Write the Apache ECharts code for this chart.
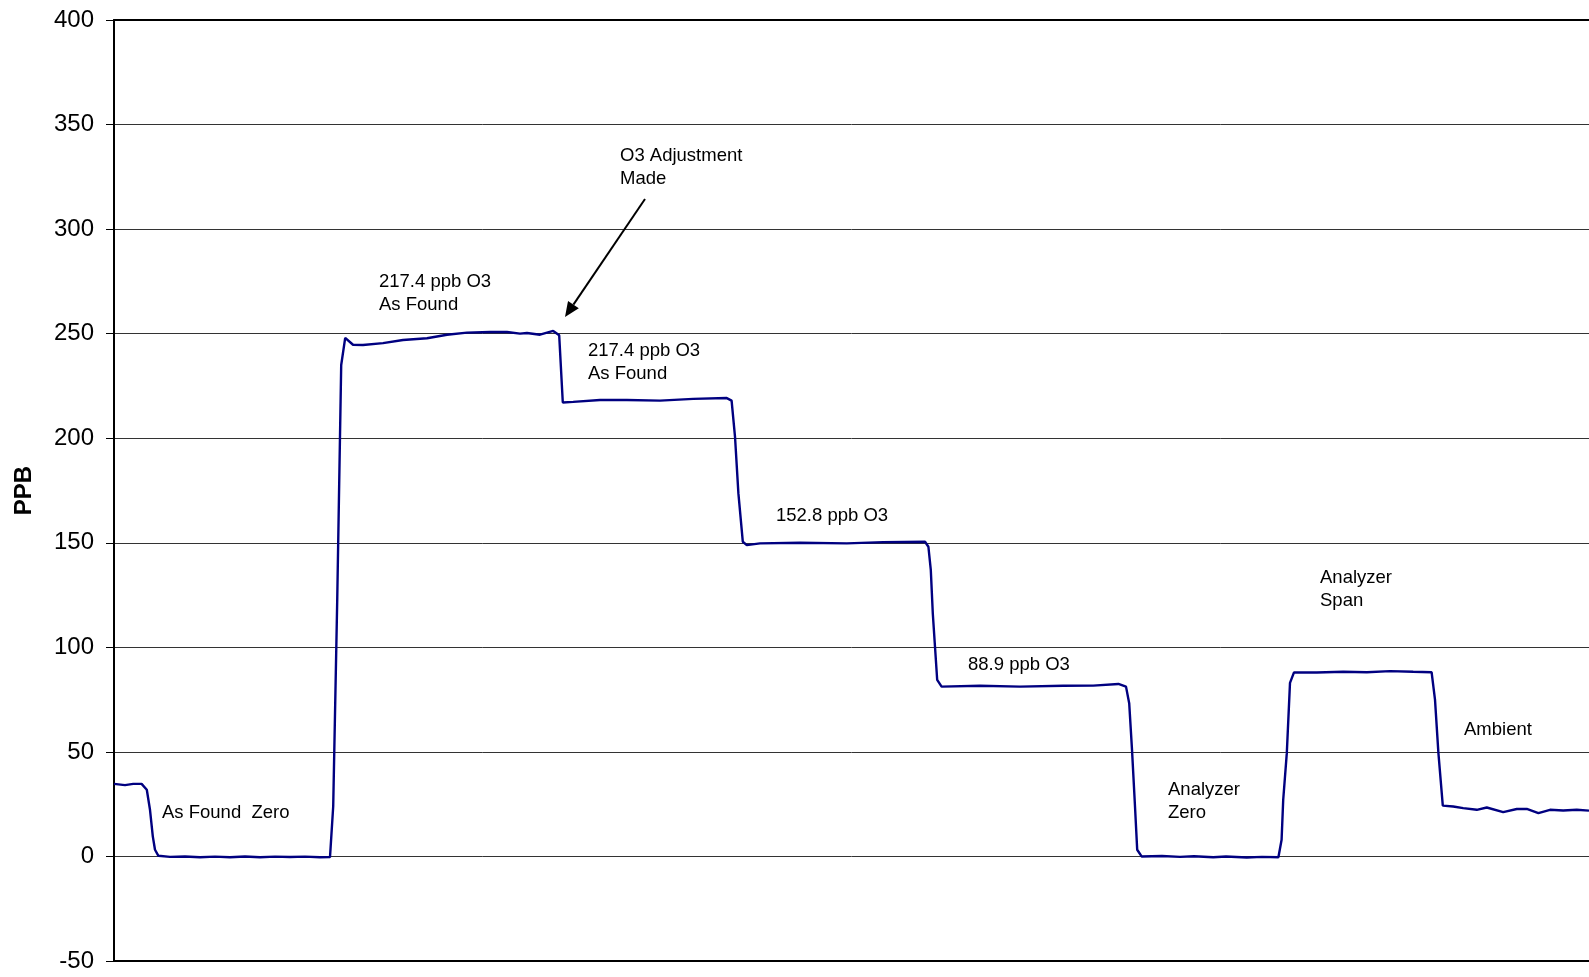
<!DOCTYPE html>
<html>
<head>
<meta charset="utf-8">
<script src="https://cdn.jsdelivr.net/npm/echarts@6/dist/echarts.min.js"></script>
<style>
html,body{margin:0;padding:0;background:#fff;}
#chart{width:1589px;height:977px;}
</style>
</head>
<body>
<div id="chart"></div>
<script>
// Sample time (arbitrary units, quarter-steps) and measured ozone (PPB)
var sampleTime = [
  0, 2.75, 4.8, 6.9, 8.2, 9, 9.7, 10.25, 11.1,
  14, 17.75, 21.5, 25.25, 29, 32.75, 36.5, 40.25, 44, 47.75, 51.5, 54,
  54.8, 55.8, 56.8, 57.8, 59.75, 62.25, 67.25, 72.25, 78.25, 83.25, 88.25, 94, 98.25, 101.5, 103.25, 106.5, 109.8, 111.3,
  112.2, 114.8, 121.5, 128.2, 136.5, 144.8, 153.2, 154.4,
  155.25, 156.1, 157.2, 158.2, 161.5, 171.5, 183.2, 192.3, 202.75, 203.6,
  204.2, 204.7, 205.25, 205.8, 206.9, 216.5, 226.5, 237.3, 244.8, 251.1, 253,
  253.8, 254.5, 255.25, 255.8, 256.9, 262, 266.5, 270, 274.8, 278, 283.2, 287, 291.1,
  291.9, 292.3, 293.2, 294, 295, 300.7, 307.3, 313.2, 319, 324.8, 329.4,
  330.25, 331.1, 332.2, 334.8, 337.3, 340.7, 343.2, 347.3, 350.7, 353.2, 356.1, 359, 362.3, 365.7, 368.75
];
var ppbValues = [
  34.7, 34.1, 34.7, 34.7, 31.9, 22.3, 9.6, 3.2, 0.3,
  -0.2, 0, -0.4, -0.1, -0.4, 0, -0.4, -0.1, -0.3, -0.1, -0.4, -0.3,
  23.9, 122, 235, 248, 244.7, 244.6, 245.5, 247, 247.8, 249.5, 250.5, 250.8, 250.8, 250, 250.3, 249.5, 251.3, 249.2,
  217.1, 217.4, 218.3, 218.3, 218, 218.8, 219.2, 218,
  200.8, 173.6, 150.5, 148.9, 149.7, 150, 149.7, 150.3, 150.5, 148.1,
  137, 116.2, 100.3, 84.4, 81.2, 81.6, 81.2, 81.6, 81.7, 82.5, 81.2,
  73.3, 51.1, 23.9, 3.2, 0, 0.2, -0.2, 0.1, -0.4, 0, -0.5, -0.2, -0.4,
  8, 27, 49.4, 83, 88, 88, 88.3, 88.1, 88.6, 88.3, 88.1,
  75, 49.5, 24.3, 23.9, 23.1, 22.3, 23.4, 21.2, 22.7, 22.7, 20.7, 22.3, 22, 22.3, 21.9
];
var yTicks = [-50, 0, 50, 100, 150, 200, 250, 300, 350, 400];
var annotationTexts = [
  '217.4 ppb O3\nAs Found',
  'O3 Adjustment\nMade',
  '217.4 ppb O3\nAs Found',
  '152.8 ppb O3',
  '88.9 ppb O3',
  'Analyzer\nZero',
  'Analyzer\nSpan',
  'Ambient',
  'As Found  Zero'
];

// layout for annotations (pixel positions, left edge / vertical middle of first line)
var annotationPos = [
  [379, 282], [620, 156], [588, 351], [776, 516], [968, 665],
  [1168, 790], [1320, 578], [1464, 730], [162, 813]
];

var seriesData = sampleTime.map(function (t, i) { return [t, ppbValues[i]]; });

var FONT = '"Liberation Sans", Arial, sans-serif';
var graphics = annotationTexts.map(function (txt, i) {
  return {
    type: 'text',
    left: annotationPos[i][0],
    top: annotationPos[i][1] - 11,
    z: 100,
    style: {
      text: txt,
      font: '18.5px ' + FONT,
      fill: '#000',
      lineHeight: 22.7
    }
  };
});
// arrow
var ax0 = 645, ay0 = 199, ax1 = 565, ay1 = 317;
var ang = Math.atan2(ay1 - ay0, ax1 - ax0);
var hl = 15, hw = 6.5;
var bx = ax1 - hl * Math.cos(ang), by = ay1 - hl * Math.sin(ang);
var px = -Math.sin(ang), py = Math.cos(ang);
graphics.push({
  type: 'line', z: 100,
  shape: { x1: ax0, y1: ay0, x2: bx, y2: by },
  style: { stroke: '#000', lineWidth: 2 }
});
graphics.push({
  type: 'polygon', z: 100,
  shape: { points: [[ax1, ay1], [bx + px * hw, by + py * hw], [bx - px * hw, by - py * hw]] },
  style: { fill: '#000' }
});

var chart = echarts.init(document.getElementById('chart'), null, { renderer: 'canvas' });
chart.setOption({
  backgroundColor: '#fff',
  animation: false,
  grid: { left: 114, right: 0, top: 20, bottom: 16, containLabel: false },
  xAxis: [{
    type: 'value', min: 0, max: 368.75, position: 'bottom',
    axisLine: { show: true, onZero: false, lineStyle: { color: '#000', width: 2 } },
    axisTick: { show: false }, axisLabel: { show: false }, splitLine: { show: false }
  }, {
    type: 'value', min: 0, max: 368.75, position: 'top',
    axisLine: { show: true, onZero: false, lineStyle: { color: '#000', width: 2 } },
    axisTick: { show: false }, axisLabel: { show: false }, splitLine: { show: false }
  }],
  yAxis: {
    type: 'value', min: yTicks[0], max: yTicks[yTicks.length - 1], interval: 50,
    name: 'PPB', nameLocation: 'middle', nameGap: 78, nameRotate: 90,
    nameTextStyle: { fontFamily: FONT, fontSize: 24, fontWeight: 'bold', color: '#000' },
    axisLine: { show: true, onZero: false, lineStyle: { color: '#000', width: 2 } },
    axisTick: { show: true, inside: false, length: 8, lineStyle: { color: '#000', width: 1 } },
    axisLabel: { margin: 20, fontFamily: FONT, fontSize: 24, color: '#000', padding: [4, 0, 0, 0] },
    splitLine: { show: true, lineStyle: { color: '#333', width: 1 } }
  },
  series: [{
    type: 'line', xAxisIndex: 0, data: seriesData,
    showSymbol: false, symbol: 'none', smooth: false,
    lineStyle: { color: '#000080', width: 2.4 },
    z: 5
  }],
  graphic: graphics
});
</script>
</body>
</html>
